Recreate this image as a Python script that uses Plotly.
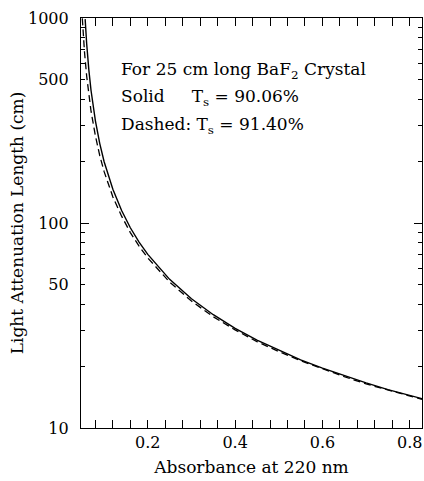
import plotly.graph_objects as go

# Solid curve: T_s = 90.06 %
absorb_solid = [0.0565, 0.058, 0.060, 0.065, 0.070, 0.080, 0.090, 0.100, 0.120, 0.140,
                0.160, 0.180, 0.200, 0.250, 0.300, 0.350, 0.400, 0.450, 0.500, 0.550,
                0.600, 0.650, 0.700, 0.750, 0.800, 0.828]
length_solid = [987, 869, 749, 557, 443, 315, 244, 199, 146, 115,
                94.8, 80.7, 70.3, 53.1, 42.7, 35.7, 30.6, 26.8, 23.9, 21.5,
                19.6, 18.0, 16.6, 15.4, 14.4, 13.9]

# Dashed curve: T_s = 91.40 %
absorb_dashed = [0.050, 0.052, 0.055, 0.060, 0.065, 0.070, 0.080, 0.090, 0.100, 0.120,
                 0.140, 0.160, 0.180, 0.200, 0.250, 0.300, 0.350, 0.400, 0.450, 0.500,
                 0.550, 0.600, 0.650, 0.700, 0.750, 0.800, 0.828]
length_dashed = [996, 842, 683, 520, 419, 351, 266, 213, 178, 134,
                 108, 89.8, 77.1, 67.5, 51.5, 41.6, 34.9, 30.1, 26.4, 23.6,
                 21.3, 19.4, 17.8, 16.4, 15.3, 14.3, 13.8]

x_tickvals = [0.2, 0.4, 0.6, 0.8]
x_ticktext = ["0.2", "0.4", "0.6", "0.8"]
y_labelvals = [10, 50, 100, 500, 1000]
y_labeltext = ["10", "50", "100", "500", "1000"]
y_majorvals = [10, 100, 1000]
y_minorvals = [20, 30, 40, 50, 60, 70, 80, 90, 200, 300, 400, 500, 600, 700, 800, 900]

FONT = "DejaVu Serif"
X_RANGE = [0.047, 0.828]
Y_RANGE = [1, 3]

fig = go.Figure()
fig.add_trace(go.Scatter(x=absorb_solid, y=length_solid, mode="lines",
                         line=dict(color="black", width=1.4), showlegend=False))
fig.add_trace(go.Scatter(x=absorb_dashed, y=length_dashed, mode="lines",
                         line=dict(color="black", width=1.3, dash="7px,4px"), showlegend=False))
# invisible trace to carry the tick-mark axis
fig.add_trace(go.Scatter(x=[absorb_solid[-1]], y=[length_solid[-1]], yaxis="y2",
                         mode="markers", marker=dict(opacity=0), showlegend=False,
                         hoverinfo="skip"))

fig.update_layout(
    width=424, height=481,
    margin=dict(l=81, r=2, t=18, b=53),
    paper_bgcolor="white", plot_bgcolor="white",
    font=dict(family=FONT, size=16, color="black"),
    xaxis=dict(
        range=X_RANGE, showgrid=False, zeroline=False, automargin=False,
        showline=True, linecolor="black", linewidth=1.2, mirror="allticks",
        ticks="inside", ticklen=8, tickwidth=1, tickcolor="black",
        tickvals=x_tickvals, ticktext=x_ticktext,
        minor=dict(ticks="inside", ticklen=4, tickwidth=1, tickcolor="black",
                   dtick=0.04, tick0=0.0, showgrid=False),
        title=dict(text="Absorbance at 220 nm", standoff=9, font=dict(size=17)),
        tickfont=dict(size=16),
    ),
    yaxis=dict(
        type="log", range=Y_RANGE, showgrid=False, zeroline=False, automargin=False,
        showline=True, linecolor="black", linewidth=1.2, mirror=True,
        ticks="", tickvals=y_labelvals, ticktext=y_labeltext,
        ticklabelstandoff=8,
        title=dict(text="Light Attenuation Length (cm)", standoff=0, font=dict(size=17)),
        tickfont=dict(size=16),
    ),
    yaxis2=dict(
        type="log", range=Y_RANGE, overlaying="y", anchor="x", side="left",
        showgrid=False, zeroline=False, showticklabels=False, automargin=False,
        showline=False, mirror="allticks",
        ticks="inside", ticklen=8, tickwidth=1, tickcolor="black",
        tickvals=y_majorvals,
        minor=dict(ticks="inside", ticklen=4, tickwidth=1, tickcolor="black",
                   tickvals=y_minorvals, showgrid=False),
    ),
)

fig.add_annotation(xref="paper", yref="paper", x=0.112, y=0.873, xanchor="left", yanchor="middle",
                   text="For 25 cm long BaF<sub>2</sub> Crystal", showarrow=False,
                   font=dict(family=FONT, size=17))
fig.add_annotation(xref="paper", yref="paper", x=0.112, y=0.805, xanchor="left", yanchor="middle",
                   text="Solid&nbsp;&nbsp;&nbsp;&nbsp;&nbsp;T<sub>s</sub> = 90.06%", showarrow=False,
                   font=dict(family=FONT, size=17))
fig.add_annotation(xref="paper", yref="paper", x=0.112, y=0.739, xanchor="left", yanchor="middle",
                   text="Dashed: T<sub>s</sub> = 91.40%", showarrow=False,
                   font=dict(family=FONT, size=17))

fig.write_html("out.html", config={"displayModeBar": False},
               post_script="document.body.style.margin='0';document.body.style.overflow='hidden';")
